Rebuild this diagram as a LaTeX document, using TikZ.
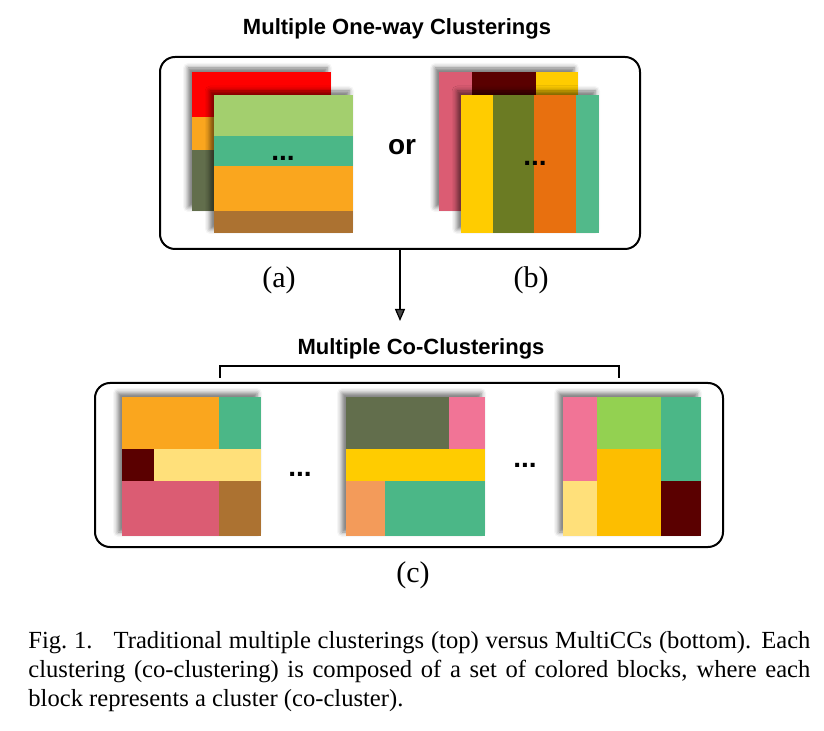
\documentclass[tikz,border=0pt]{standalone}
\usepackage{fontspec}
\setmainfont{Liberation Serif}
\setsansfont{Liberation Sans}
\usetikzlibrary{arrows.meta,shadows.blur,calc}
\definecolor{cred}{HTML}{FF0000}
\definecolor{corange}{HTML}{FAA61E}
\definecolor{colive}{HTML}{626E4C}
\definecolor{clgreen}{HTML}{A3CF6E}
\definecolor{cgreen}{HTML}{4BB787}
\definecolor{cbrown}{HTML}{AC7231}
\definecolor{cpink}{HTML}{DB5C73}
\definecolor{cmaroon}{HTML}{5A0000}
\definecolor{cyellow}{HTML}{FFCC00}
\definecolor{colivegreen}{HTML}{6B7B23}
\definecolor{cdorange}{HTML}{E8700F}
\definecolor{cseagreen}{HTML}{52B98A}
\definecolor{clyellow}{HTML}{FFE07A}
\definecolor{crose}{HTML}{F17496}
\definecolor{cpeach}{HTML}{F39B5A}
\definecolor{cleaf}{HTML}{93D151}
\definecolor{camber}{HTML}{FDBE00}

\begin{document}
\begin{tikzpicture}[x=0.5pt, y=-0.5pt, >=Stealth,
    panel/.style={draw, line width=1pt, rounded corners=7.5pt, inner sep=0pt},
    head/.style={font=\sffamily\bfseries\fontsize{11}{13}\selectfont, anchor=base},
    lbl/.style={font=\fontsize{15}{18}\selectfont, anchor=base},
    dots/.style={font=\sffamily\bfseries\fontsize{14}{16}\selectfont, anchor=base, inner sep=0pt},
    card/.style={blur shadow={shadow xshift=-2pt, shadow yshift=2pt,
                 shadow blur radius=2.5pt, shadow opacity=55}}]
  \useasboundingbox (0,0) rectangle (824,731);

  % Panels and titles
  \node[head] (onetitle) at (397,35) {Multiple One-way Clusterings};
  \node[panel, minimum width=240pt, minimum height=96pt] (topbox) at (400,153) {};
  \node[head] (cotitle) at (421,355) {Multiple Co-Clusterings};
  \node[panel, minimum width=314pt, minimum height=82pt] (cobox) at (409,465) {};

  % (a) row clusterings
  \path[card] (192,72) rectangle (331,211);
  \foreach \ya/\yb/\col in {72/117/cred, 117/150/corange, 150/211/colive}
    \fill[\col] (192,\ya) rectangle (331,\yb);
  \path[card] (214,95) rectangle (353,233);
  \foreach \ya/\yb/\col in {95/136/clgreen, 136/166/cgreen, 166/211/corange, 211/233/cbrown}
    \fill[\col] (214,\ya) rectangle (353,\yb);
  \node[dots] (dotsa) at (283,161) {...};

  \node[font=\sffamily\bfseries\fontsize{14}{16}\selectfont, anchor=base] (or) at (402,155) {or};

  % (b) column clusterings
  \path[card] (439,72) rectangle (578,211);
  \foreach \xa/\xb/\col in {439/472/cpink, 472/536/cmaroon, 536/578/cyellow}
    \fill[\col] (\xa,72) rectangle (\xb,211);
  \path[card] (461,95) rectangle (599,233);
  \foreach \xa/\xb/\col in {461/493/cyellow, 493/534/colivegreen, 534/576/cdorange, 576/599/cseagreen}
    \fill[\col] (\xa,95) rectangle (\xb,233);
  \node[dots] (dotsb) at (535,166) {...};

  \node[lbl] (la) at (279,288) {(a)};
  \node[lbl] (lb) at (531,288) {(b)};

  % Arrow and bracket
  \coordinate (arrowend) at (402,321);
  \draw[-{Triangle[width=5pt,length=6pt]}, line width=0.6pt] (topbox.south) -- (topbox.south |- arrowend);
  \coordinate (brl) at (220,378);
  \coordinate (brr) at (619,378);
  \draw[line width=1pt] (brl) -- ++(0,-12) -| (brr);

  % (c) co-clusterings
  \path[card] (122,397) rectangle (261,536);
  \fill[corange] (122,397) rectangle (219,449);
  \fill[cgreen] (219,397) rectangle (261,449);
  \fill[cmaroon] (122,449) rectangle (154,481);
  \fill[clyellow] (154,449) rectangle (261,481);
  \fill[cpink] (122,481) rectangle (219,536);
  \fill[cbrown] (219,481) rectangle (261,536);
  \node[dots] (dotsc) at (300,477) {...};

  \path[card] (346,397) rectangle (485,536);
  \fill[colive] (346,397) rectangle (449,449);
  \fill[crose] (449,397) rectangle (485,449);
  \fill[cyellow] (346,449) rectangle (485,481);
  \fill[cpeach] (346,481) rectangle (385,536);
  \fill[cgreen] (385,481) rectangle (485,536);
  \node[dots] (dotsd) at (525,468) {...};

  \path[card] (563,397) rectangle (701,536);
  \fill[crose] (563,397) rectangle (597,481);
  \fill[clyellow] (563,481) rectangle (597,536);
  \fill[cleaf] (597,397) rectangle (661,449);
  \fill[camber] (597,449) rectangle (661,536);
  \fill[cgreen] (661,397) rectangle (701,481);
  \fill[cmaroon] (661,481) rectangle (701,536);

  \node[lbl] (lc) at (413,582) {(c)};

  % Caption
  \node[anchor=north west, inner sep=0pt, text width=391pt, align=justify,
        font=\fontsize{12.3}{14.5}\selectfont] (caption) at (28,631)
    {Fig.~1.\hskip 0.8em plus 0.3em Traditional multiple clusterings (top) versus MultiCCs (bottom). Each\linebreak
     clustering (co-clustering) is composed of a set of colored blocks, where each\linebreak
     block represents a cluster (co-cluster).};
\end{tikzpicture}
\end{document}
